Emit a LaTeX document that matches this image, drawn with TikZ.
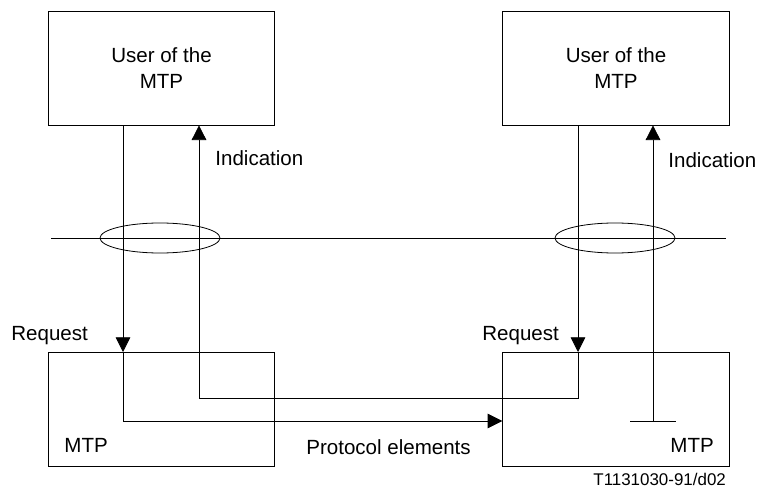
\documentclass[tikz,border=0pt]{standalone}
\usepackage{fontspec}
\setmainfont{Liberation Sans}
\usetikzlibrary{arrows.meta,positioning}

\begin{document}
\begin{tikzpicture}[x=0.75pt,y=-0.75pt,
  font=\fontsize{15.4}{20}\selectfont,
  line width=0.6pt,
  layer/.style={draw, minimum width=170pt, minimum height=85.5pt, inner sep=0pt, align=center},
  flow/.style={-{Triangle[length=11pt,width=11pt]}},
  lbl/.style={inner sep=0pt, anchor=base west}]
\useasboundingbox (0,0) rectangle (759,488);

% users of the MTP
\node[layer] (userL) at (161.5,68) {User of the\\MTP};
\node[layer] (userR) at (616,68) {User of the\\MTP};
% MTP boxes
\node[layer] (mtpL) at (161.5,409) {};
\node[layer] (mtpR) at (616,409) {};

% interface line and rings
\coordinate (ifL) at (51,238);
\coordinate (ifR) at (726,238);
\draw (ifL) -- (ifR);
\draw (160,238) ellipse [x radius=45pt, y radius=11.25pt];
\draw (615,238) ellipse [x radius=45pt, y radius=11.25pt];

% turning points
\coordinate (dnL) at (123,352);
\coordinate (dnR) at (578,352);
\coordinate (peL) at (123,421);
\coordinate (inL) at (199,398);
\coordinate (tee) at (653,421);

\draw[flow] (userL.south -| dnL) -- (dnL);
\draw[flow] (dnL) |- (mtpR.west |- peL);
\draw[flow] (userR.south -| dnR) -- (dnR);
\draw[flow] (dnR) |- (inL) -- (userL.south -| inL);
\draw[flow] (tee) -- (userR.south -| tee);
\draw ([xshift=-17.25pt]tee) -- ([xshift=17.25pt]tee);

% labels
\node[lbl] (indL) at (215,166) {Indication};
\node[lbl] (indR) at (668,168) {Indication};
\node[lbl] (reqL) at (11,340) {Request};
\node[lbl] (reqR) at (482,340) {Request};
\node[lbl] (mtpLt) at (64,452) {MTP};
\node[lbl] (mtpRt) at (670,452) {MTP};
\node[lbl] (pe) at (306,454) {Protocol elements};
\node[lbl, font=\fontsize{12.7}{15}\selectfont] (fig) at (593,485) {T1131030-91/d02};

\end{tikzpicture}
\end{document}
